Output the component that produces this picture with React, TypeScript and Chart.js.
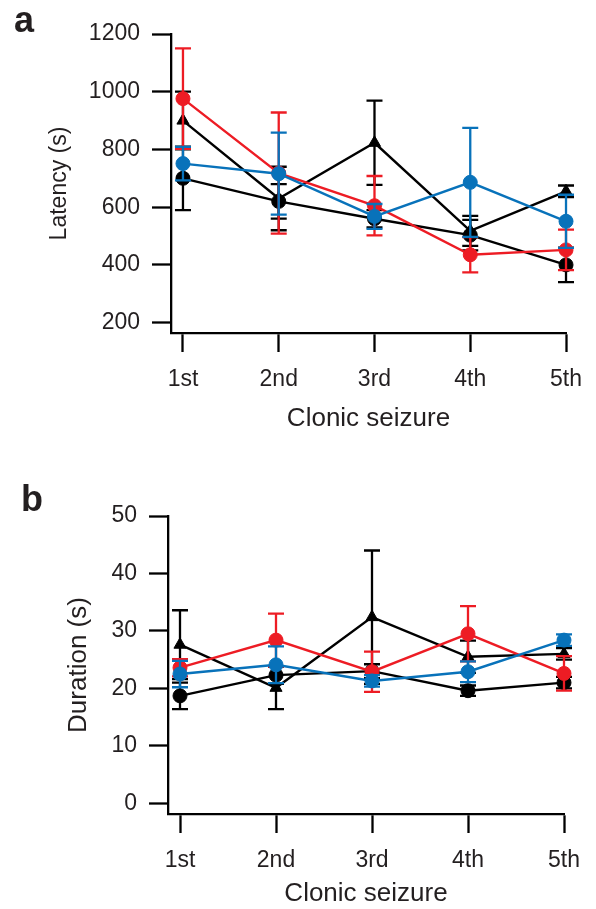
import React, { useEffect, useRef } from 'react';
import { Chart, registerables } from 'chart.js';

Chart.register(...registerables);

// ---------- data ----------
const categories = ['1st', '2nd', '3rd', '4th', '5th'];

const latencyTicks = [200, 400, 600, 800, 1000, 1200];
const latencyBlackCircle = [700, 620, 560, 503, 400];
const latencyBlackCircleErr = [110, 60, 30, 53, 60];
const latencyBlackTriangle = [900, 630, 823, 518, 655];
const latencyBlackTriangleErr = [100, 110, 146, 52, 20];
const latencyRed = [976, 718, 605, 435, 452];
const latencyRedErr = [174, 210, 103, 61, 70];
const latencyBlue = [751, 716, 568, 686, 551];
const latencyBlueErr = [58, 142, 43, 189, 92];

const durationTicks = [0, 10, 20, 30, 40, 50];
const durationBlackCircle = [18.7, 22.3, 23.0, 19.6, 21.0];
const durationBlackCircleErr = [2.3, 1.5, 1.2, 0.9, 1.0];
const durationBlackTriangle = [27.6, 20.1, 32.4, 25.5, 26.0];
const durationBlackTriangleErr = [6.0, 3.7, 11.6, 2.8, 1.0];
const durationRed = [23.6, 28.4, 22.9, 29.5, 22.6];
const durationRedErr = [1.5, 4.6, 3.5, 4.8, 3.0];
const durationBlue = [22.5, 24.1, 21.3, 22.9, 28.4];
const durationBlueErr = [2.3, 3.2, 1.0, 1.8, 1.0];

// ---------- style ----------
const FONT = "'Liberation Sans', Arial, Helvetica, sans-serif";
const TEXT = '#231f20';
const BLACK = '#000000';
const RED = '#ED1C24';
const BLUE = '#0872BA';

const errorBarPlugin = {
  id: 'errorBars',
  beforeDatasetDraw(chart: any, args: any) {
    const ds: any = chart.data.datasets[args.index];
    const errs: number[] = ds.errors;
    if (!errs) return;
    const xs = chart.scales.x;
    const ys = chart.scales.y;
    const ctx = chart.ctx;
    ctx.save();
    ctx.strokeStyle = ds.borderColor;
    ctx.lineWidth = 2.3;
    ds.data.forEach((p: any, j: number) => {
      const px = xs.getPixelForValue(p.x);
      const top = ys.getPixelForValue(p.y + errs[j]);
      const bot = ys.getPixelForValue(p.y - errs[j]);
      ctx.beginPath();
      ctx.moveTo(px, top);
      ctx.lineTo(px, bot);
      ctx.moveTo(px - 8, top);
      ctx.lineTo(px + 8, top);
      ctx.moveTo(px - 8, bot);
      ctx.lineTo(px + 8, bot);
      ctx.stroke();
    });
    ctx.restore();
  },
};

const panelLabelPlugin = {
  id: 'panelLabel',
  afterDraw(chart: any, _args: any, opts: any) {
    const ctx = chart.ctx;
    ctx.save();
    ctx.font = `bold ${opts.size}px ${FONT}`;
    ctx.fillStyle = TEXT;
    ctx.textBaseline = 'alphabetic';
    ctx.textAlign = 'left';
    ctx.fillText(opts.text, opts.x, opts.y);
    ctx.restore();
  },
};

function series(values: number[], errors: number[], color: string, shape: string, order: number) {
  return {
    data: values.map((v, i) => ({ x: i + 1, y: v })),
    errors,
    borderColor: color,
    backgroundColor: color,
    borderWidth: 2.4,
    pointStyle: shape,
    pointRadius: 7,
    pointBorderWidth: 1,
    pointBackgroundColor: color,
    pointBorderColor: color,
    clip: false,
    order,
  } as any;
}

interface PanelProps {
  width: number;
  height: number;
  top: number;
  pad: { left: number; right: number; top: number; bottom: number };
  yWidth: number;
  xHeight: number;
  yMin: number;
  yMax: number;
  yTicks: number[];
  yTitle: string;
  yTitleSize: number;
  yTitlePad: number;
  xTitlePadBottom: number;
  label: { text: string; x: number; y: number; size: number };
  datasets: any[];
}

function Panel(props: PanelProps) {
  const ref = useRef<HTMLCanvasElement>(null);
  useEffect(() => {
    if (!ref.current) return;
    const chart = new Chart(ref.current, {
      type: 'line',
      data: { datasets: props.datasets },
      plugins: [errorBarPlugin, panelLabelPlugin],
      options: {
        animation: false,
        responsive: false,
        maintainAspectRatio: false,
        layout: { padding: props.pad },
        plugins: {
          legend: { display: false },
          tooltip: { enabled: false },
          panelLabel: props.label,
        } as any,
        scales: {
          x: {
            type: 'linear',
            min: 0.875,
            max: 5,
            afterBuildTicks: (s: any) => {
              s.ticks = categories.map((_, i) => ({ value: i + 1 }));
            },
            afterFit: (s: any) => {
              s.height = props.xHeight;
            },
            ticks: {
              callback: (v: any) => categories[Math.round(v) - 1],
              font: { family: FONT, size: 23 },
              color: TEXT,
              padding: 14,
              maxRotation: 0,
              autoSkip: false,
            },
            grid: {
              drawOnChartArea: false,
              drawTicks: true,
              tickLength: 19,
              tickWidth: 2.3,
              tickColor: BLACK,
            },
            border: { display: true, width: 2.3, color: BLACK },
            title: {
              display: true,
              text: 'Clonic seizure',
              font: { family: FONT, size: 26 },
              color: TEXT,
              padding: { top: 0, bottom: props.xTitlePadBottom },
            },
          },
          y: {
            type: 'linear',
            min: props.yMin,
            max: props.yMax,
            afterBuildTicks: (s: any) => {
              s.ticks = props.yTicks.map((v) => ({ value: v }));
            },
            afterFit: (s: any) => {
              s.width = props.yWidth;
            },
            ticks: {
              callback: (v: any) => String(v),
              font: { family: FONT, size: 23 },
              color: TEXT,
              padding: 12,
            },
            grid: {
              drawOnChartArea: false,
              drawTicks: true,
              tickLength: 19,
              tickWidth: 2.3,
              tickColor: BLACK,
            },
            border: { display: true, width: 2.3, color: BLACK },
            title: {
              display: true,
              text: props.yTitle,
              font: { family: FONT, size: props.yTitleSize },
              color: TEXT,
              padding: { top: props.yTitlePad, bottom: 0 },
            },
          },
        },
      } as any,
    });
    return () => chart.destroy();
  }, []);
  return (
    <canvas
      ref={ref}
      width={props.width}
      height={props.height}
      style={{ position: 'absolute', left: 0, top: props.top, width: props.width, height: props.height, display: 'block' }}
    />
  );
}

export default function App() {
  const latencySets = [
    series(latencyBlue, latencyBlueErr, BLUE, 'circle', 0),
    series(latencyRed, latencyRedErr, RED, 'circle', 1),
    series(latencyBlackTriangle, latencyBlackTriangleErr, BLACK, 'triangle', 2),
    series(latencyBlackCircle, latencyBlackCircleErr, BLACK, 'circle', 3),
  ];
  const durationSets = [
    series(durationBlue, durationBlueErr, BLUE, 'circle', 0),
    series(durationRed, durationRedErr, RED, 'circle', 1),
    series(durationBlackTriangle, durationBlackTriangleErr, BLACK, 'triangle', 2),
    series(durationBlackCircle, durationBlackCircleErr, BLACK, 'circle', 3),
  ];
  return (
    <div style={{ position: 'absolute', left: 0, top: 0, width: 596, height: 909, background: '#fff' }}>
      <Panel
        width={596}
        height={455}
        top={0}
        pad={{ left: 0, right: 29, top: 34, bottom: 12 }}
        yWidth={171}
        xHeight={110}
        yMin={164}
        yMax={1200}
        yTicks={latencyTicks}
        yTitle="Latency (s)"
        yTitleSize={23}
        yTitlePad={45.7}
        xTitlePadBottom={9}
        label={{ text: 'a', x: 14, y: 32, size: 36 }}
        datasets={latencySets}
      />
      <Panel
        width={596}
        height={454}
        top={455}
        pad={{ left: 0, right: 32, top: 61, bottom: 0 }}
        yWidth={168}
        xHeight={95}
        yMin={-1.86}
        yMax={50}
        yTicks={durationTicks}
        yTitle="Duration (s)"
        yTitleSize={26}
        yTitlePad={63.4}
        xTitlePadBottom={0}
        label={{ text: 'b', x: 21, y: 56, size: 36 }}
        datasets={durationSets}
      />
    </div>
  );
}
